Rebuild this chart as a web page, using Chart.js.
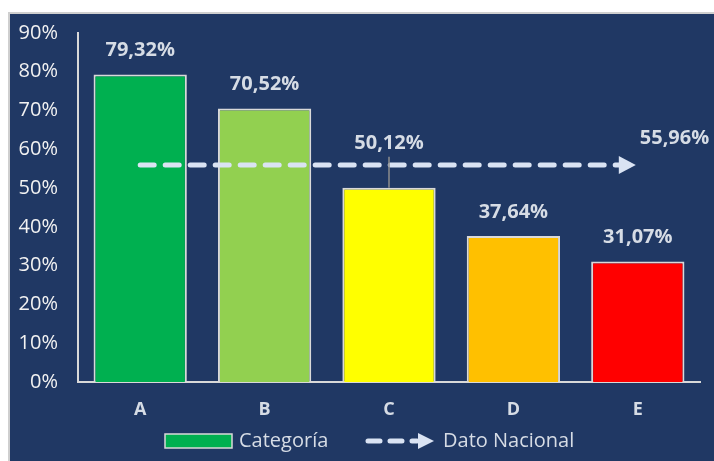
<!DOCTYPE html>
<html>
<head>
<meta charset="utf-8">
<script src="https://cdn.jsdelivr.net/npm/chart.js@4"></script>
<style>
  html, body { margin: 0; padding: 0; background: #fff; }
  #wrap {
    position: absolute; left: 8px; top: 12px; width: 706px; height: 449px;
    background: #203864; border-left: 2px solid #cfcfcf; border-top: 2px solid #cfcfcf;
    box-sizing: border-box;
  }
</style>
</head>
<body>
<div id="wrap"><canvas id="chart"></canvas></div>
<script>
const categories = ['A', 'B', 'C', 'D', 'E'];
const values = [79.32, 70.52, 50.12, 37.64, 31.07];
const barColors = ['#00B050', '#92D050', '#FFFF00', '#FFC000', '#FF0000'];
const nationalValue = 55.96;
const nationalLine = [nationalValue, nationalValue, nationalValue, nationalValue, nationalValue];
// extra lift for labels that Excel moved up (with a leader line)
const labelLift = [0, 0, 20, 0, 0];

const TEXT = '#D6DCE5';
const AXIS = '#D9D9D9';
const LINE = '#DAE3F3';
const FONT = "'Open Sans', 'Noto Sans', sans-serif";

function fmt(v) {
  return v.toFixed(2).replace('.', ',') + '%';
}

// value labels, leader line, arrow head, legend
const labelPlugin = {
  id: 'labels',
  afterDatasetsDraw(chart) {
    const ctx = chart.ctx;
    const bars = chart.getDatasetMeta(0).data;
    const pts = chart.getDatasetMeta(1).data;
    ctx.save();
    ctx.font = "bold 20px " + FONT;
    ctx.fillStyle = TEXT;
    ctx.textAlign = 'center';
    ctx.textBaseline = 'middle';
    bars.forEach((b, i) => {
      const y = b.y - 24 - labelLift[i];
      if (labelLift[i] > 0) {
        ctx.strokeStyle = '#8c8c8c';
        ctx.lineWidth = 1.5;
        ctx.beginPath();
        ctx.moveTo(b.x, b.y);
        ctx.lineTo(b.x, y + 13);
        ctx.stroke();
      }
      ctx.fillText(fmt(values[i]), b.x, y);
    });
    // arrow head at end of national line
    const last = pts[pts.length - 1];
    const tip = last.x - 2;
    ctx.fillStyle = LINE;
    ctx.beginPath();
    ctx.moveTo(tip, last.y);
    ctx.lineTo(tip - 17, last.y - 9);
    ctx.lineTo(tip - 17, last.y + 9);
    ctx.closePath();
    ctx.fill();
    ctx.fillStyle = TEXT;
    ctx.textAlign = 'left';
    ctx.fillText(fmt(nationalValue), last.x + 2, last.y - 27);

    // legend
    const ly = chart.height - 20;
    ctx.fillStyle = '#00B050';
    ctx.strokeStyle = AXIS;
    ctx.lineWidth = 1.5;
    ctx.fillRect(155, ly - 7, 67, 14);
    ctx.strokeRect(155, ly - 7, 67, 14);
    ctx.font = "20px " + FONT;
    ctx.fillStyle = TEXT;
    ctx.textAlign = 'left';
    ctx.fillText('Categoría', 229, ly);
    ctx.strokeStyle = LINE;
    ctx.lineWidth = 5;
    ctx.lineCap = 'round';
    ctx.beginPath();
    ctx.moveTo(358, ly); ctx.lineTo(370, ly);
    ctx.moveTo(380, ly); ctx.lineTo(392, ly);
    ctx.moveTo(402, ly); ctx.lineTo(407, ly);
    ctx.stroke();
    ctx.fillStyle = LINE;
    ctx.beginPath();
    ctx.moveTo(424, ly);
    ctx.lineTo(408, ly - 8);
    ctx.lineTo(408, ly + 8);
    ctx.closePath();
    ctx.fill();
    ctx.fillStyle = TEXT;
    ctx.fillText('Dato Nacional', 433, ly);
    ctx.restore();
  }
};

new Chart(document.getElementById('chart'), {
  type: 'bar',
  data: {
    labels: categories,
    datasets: [{
      label: 'Categoría',
      data: values,
      backgroundColor: barColors,
      borderColor: AXIS,
      borderWidth: 2,
      categoryPercentage: 1,
      barPercentage: 0.75,
      order: 2
    }, {
      type: 'line',
      label: 'Dato Nacional',
      data: nationalLine,
      borderColor: LINE,
      borderWidth: 5,
      borderDash: [14, 11],
      borderCapStyle: 'round',
      pointRadius: 0,
      fill: false,
      order: 1
    }]
  },
  options: {
    responsive: true,
    maintainAspectRatio: false,
    animation: false,
    layout: { padding: { top: 19, right: 14, bottom: 40, left: 0 } },
    plugins: {
      legend: { display: false },
      tooltip: { enabled: false }
    },
    scales: {
      x: {
        grid: { display: false, drawTicks: false },
        border: { display: true, color: AXIS, width: 2 },
        ticks: { color: TEXT, font: { family: FONT, size: 18, weight: 'bold' }, padding: 17 },
        afterFit(scale) { scale.height = 39; scale.paddingLeft = 0; scale.paddingRight = 0; }
      },
      y: {
        min: 0,
        max: 90,
        grid: { display: false, drawTicks: false },
        border: { display: true, color: AXIS, width: 2 },
        ticks: {
          stepSize: 10,
          color: '#F2F2F2',
          font: { family: FONT, size: 20 },
          padding: 20,
          callback: v => v + '%'
        },
        afterFit(scale) { scale.width = 68; scale.paddingTop = 0; scale.paddingBottom = 0; }
      }
    }
  },
  plugins: [labelPlugin]
});
</script>
</body>
</html>
